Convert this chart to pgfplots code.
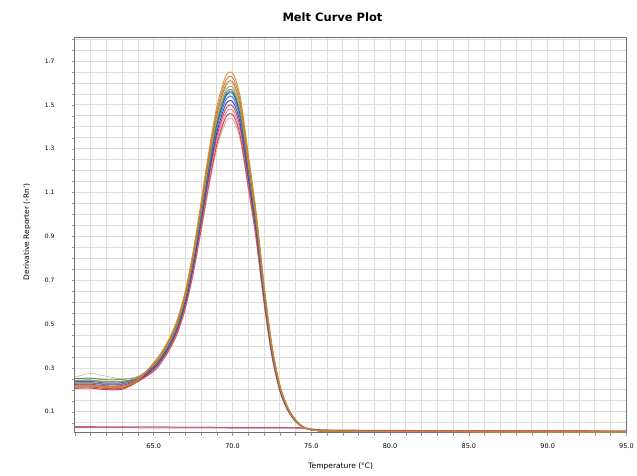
\documentclass[border=0pt]{standalone}
\usepackage{fontspec}
\setmainfont{DejaVu Sans}
\usepackage{pgfplots}
\usepackage{pgfplotstable}
\pgfplotsset{compat=1.18}

% derivative melt curves, one column per well
\pgfplotstableread{
T     s1    s2    s3    s4    s5    s6    s7    s8    s9    s10   s11   s12   s13   s14
60    0.222 0.217 0.232 0.258 0.244 0.252 0.237 0.242 0.230 0.224 0.212 0.220 0.207 0.214
61    0.223 0.218 0.233 0.275 0.245 0.253 0.238 0.243 0.231 0.225 0.213 0.221 0.208 0.215
62    0.216 0.211 0.226 0.262 0.238 0.246 0.231 0.236 0.224 0.218 0.206 0.214 0.201 0.208
63    0.218 0.213 0.228 0.250 0.240 0.248 0.233 0.238 0.226 0.220 0.208 0.216 0.203 0.210
64    0.245 0.243 0.250 0.262 0.256 0.260 0.253 0.255 0.249 0.246 0.240 0.244 0.238 0.241
65    0.325 0.321 0.317 0.315 0.312 0.309 0.307 0.306 0.303 0.299 0.295 0.291 0.287 0.283
65.5  0.373 0.368 0.364 0.361 0.358 0.355 0.352 0.351 0.348 0.343 0.339 0.334 0.330 0.325
66    0.436 0.431 0.426 0.423 0.419 0.415 0.413 0.411 0.407 0.402 0.397 0.392 0.386 0.381
66.5  0.522 0.515 0.509 0.506 0.501 0.496 0.493 0.492 0.487 0.481 0.474 0.468 0.462 0.455
67    0.649 0.642 0.634 0.630 0.624 0.618 0.614 0.612 0.606 0.598 0.590 0.582 0.575 0.567
67.5  0.830 0.820 0.810 0.805 0.798 0.790 0.785 0.782 0.775 0.765 0.755 0.745 0.735 0.725
68    1.054 1.041 1.028 1.022 1.012 1.003 0.996 0.993 0.984 0.971 0.958 0.945 0.932 0.920
68.5  1.288 1.272 1.257 1.249 1.237 1.226 1.218 1.214 1.202 1.187 1.171 1.155 1.140 1.124
69    1.490 1.472 1.454 1.445 1.432 1.418 1.409 1.404 1.391 1.373 1.355 1.337 1.319 1.301
69.5  1.618 1.598 1.579 1.569 1.554 1.540 1.530 1.525 1.510 1.491 1.471 1.451 1.432 1.412
69.8  1.650 1.630 1.610 1.600 1.585 1.570 1.560 1.555 1.540 1.520 1.500 1.480 1.460 1.440
70.1  1.634 1.614 1.594 1.585 1.570 1.555 1.545 1.540 1.525 1.505 1.485 1.466 1.446 1.426
70.5  1.533 1.514 1.496 1.487 1.473 1.459 1.449 1.444 1.431 1.412 1.393 1.375 1.356 1.338
71    1.277 1.262 1.246 1.239 1.227 1.216 1.208 1.204 1.192 1.177 1.161 1.146 1.130 1.115
71.5  1.011 0.999 0.987 0.981 0.971 0.962 0.956 0.953 0.944 0.932 0.919 0.907 0.895 0.883
72    0.681 0.673 0.665 0.661 0.654 0.648 0.644 0.642 0.636 0.628 0.619 0.611 0.603 0.595
72.5  0.405 0.400 0.395 0.392 0.389 0.385 0.382 0.381 0.378 0.373 0.368 0.363 0.358 0.353
73    0.224 0.221 0.218 0.217 0.215 0.213 0.211 0.211 0.209 0.206 0.203 0.201 0.198 0.195
73.5  0.122 0.121 0.119 0.119 0.118 0.116 0.116 0.115 0.114 0.113 0.111 0.110 0.108 0.107
74    0.064 0.063 0.062 0.062 0.061 0.061 0.060 0.060 0.060 0.059 0.058 0.057 0.057 0.056
74.5  0.031 0.031 0.030 0.030 0.030 0.030 0.030 0.030 0.030 0.030 0.029 0.029 0.029 0.029
75    0.018 0.018 0.018 0.018 0.018 0.018 0.018 0.018 0.018 0.018 0.018 0.018 0.018 0.018
75.5  0.014 0.014 0.014 0.014 0.014 0.014 0.014 0.014 0.014 0.014 0.014 0.014 0.014 0.014
76    0.012 0.012 0.012 0.012 0.012 0.012 0.012 0.012 0.012 0.012 0.012 0.012 0.012 0.012
78    0.011 0.011 0.011 0.011 0.011 0.011 0.011 0.011 0.011 0.011 0.011 0.011 0.011 0.011
80    0.010 0.010 0.010 0.010 0.010 0.010 0.010 0.010 0.010 0.010 0.010 0.010 0.010 0.010
85    0.009 0.009 0.009 0.009 0.009 0.009 0.009 0.009 0.009 0.009 0.009 0.009 0.009 0.009
90    0.008 0.008 0.008 0.008 0.008 0.008 0.008 0.008 0.008 0.008 0.008 0.008 0.008 0.008
95    0.008 0.008 0.008 0.008 0.008 0.008 0.008 0.008 0.008 0.008 0.008 0.008 0.008 0.008
}\melt

% no-template controls
\pgfplotstableread{
T   a     b
60  0.032 0.028
65  0.031 0.027
70  0.029 0.026
74  0.028 0.025
75  0.022 0.020
76  0.017 0.016
80  0.015 0.014
85  0.014 0.013
90  0.014 0.013
95  0.013 0.012
}\ntc

\definecolor{c1}{HTML}{D4892A}
\definecolor{c2}{HTML}{C77B2E}
\definecolor{c3}{HTML}{B5762D}
\definecolor{c4}{HTML}{BDB2A2}
\definecolor{c5}{HTML}{A8953A}
\definecolor{c6}{HTML}{3F8F3F}
\definecolor{c7}{HTML}{2A3FD8}
\definecolor{c8}{HTML}{3DB5AE}
\definecolor{c9}{HTML}{4060E8}
\definecolor{c10}{HTML}{2B2FA8}
\definecolor{c11}{HTML}{D0344A}
\definecolor{c12}{HTML}{E07C8A}
\definecolor{c13}{HTML}{B8303C}
\definecolor{c14}{HTML}{E8A0A0}
\definecolor{ntcA}{HTML}{A54C80}
\definecolor{ntcB}{HTML}{D05060}
\definecolor{gridgray}{HTML}{DCDCDC}
\definecolor{framegray}{HTML}{707070}

\begin{document}
\begin{tikzpicture}
\begin{axis}[
  scale only axis,
  width=552pt, height=396pt,
  xmin=60, xmax=95, ymin=0.005, ymax=1.81,
  xtick={65,70,...,95},
  ytick={0.1,0.3,...,1.7},
  minor xtick={60,61,...,95},
  minor ytick={0.05,0.10,...,1.80},
  grid=both,
  major grid style={gridgray, line width=0.9pt},
  minor grid style={gridgray, line width=0.9pt},
  axis line style={framegray, line width=0.9pt},
  tick align=outside,
  major tick length=3pt, minor tick length=3pt,
  tick style={gridgray!70!black, line width=0.5pt},
  xtick pos=bottom, ytick pos=left,
  /pgf/number format/assume math mode=true,
  xticklabel style={font=\fontsize{6.5}{8}\selectfont, yshift=-5pt,
    /pgf/number format/.cd, fixed, fixed zerofill, precision=1},
  yticklabel style={font=\fontsize{6}{7}\selectfont, xshift=-14pt,
    /pgf/number format/.cd, fixed, fixed zerofill, precision=1},
  title={Melt Curve Plot},
  title style={font=\fontsize{11.5}{13}\selectfont\bfseries,
    at={(axis description cs:0.467,1.0505)}, anchor=center, yshift=-6pt},
  xlabel={Temperature (°C)},
  xlabel style={font=\fontsize{7.5}{9}\selectfont,
    at={(axis description cs:0.482,-0.085)}, anchor=center},
  ylabel={Derivative Reporter (-Rn')},
  ylabel style={font=\fontsize{7.5}{9}\selectfont,
    at={(axis description cs:-0.087,0.508)}, anchor=center, rotate=0},
  every axis plot/.append style={smooth, line width=1pt, opacity=0.85},
]
\addplot[ntcA] table[x=T, y=a]{\ntc};
\addplot[ntcB] table[x=T, y=b]{\ntc};
\addplot[c14] table[x=T, y=s14]{\melt};
\addplot[c13] table[x=T, y=s13]{\melt};
\addplot[c12] table[x=T, y=s12]{\melt};
\addplot[c11] table[x=T, y=s11]{\melt};
\addplot[c10] table[x=T, y=s10]{\melt};
\addplot[c9]  table[x=T, y=s9]{\melt};
\addplot[c8]  table[x=T, y=s8]{\melt};
\addplot[c7]  table[x=T, y=s7]{\melt};
\addplot[c6]  table[x=T, y=s6]{\melt};
\addplot[c5]  table[x=T, y=s5]{\melt};
\addplot[c4, line width=0.6pt]  table[x=T, y=s4]{\melt};
\addplot[c3]  table[x=T, y=s3]{\melt};
\addplot[c2]  table[x=T, y=s2]{\melt};
\addplot[c1]  table[x=T, y=s1]{\melt};
\end{axis}
% page margins around the plot frame
\path (current axis.south west) ++(-75pt,-43pt) coordinate (bl);
\path (current axis.north east) ++(10pt,37pt) coordinate (tr);
\path[use as bounding box] (bl) rectangle (tr);
\end{tikzpicture}
\end{document}
